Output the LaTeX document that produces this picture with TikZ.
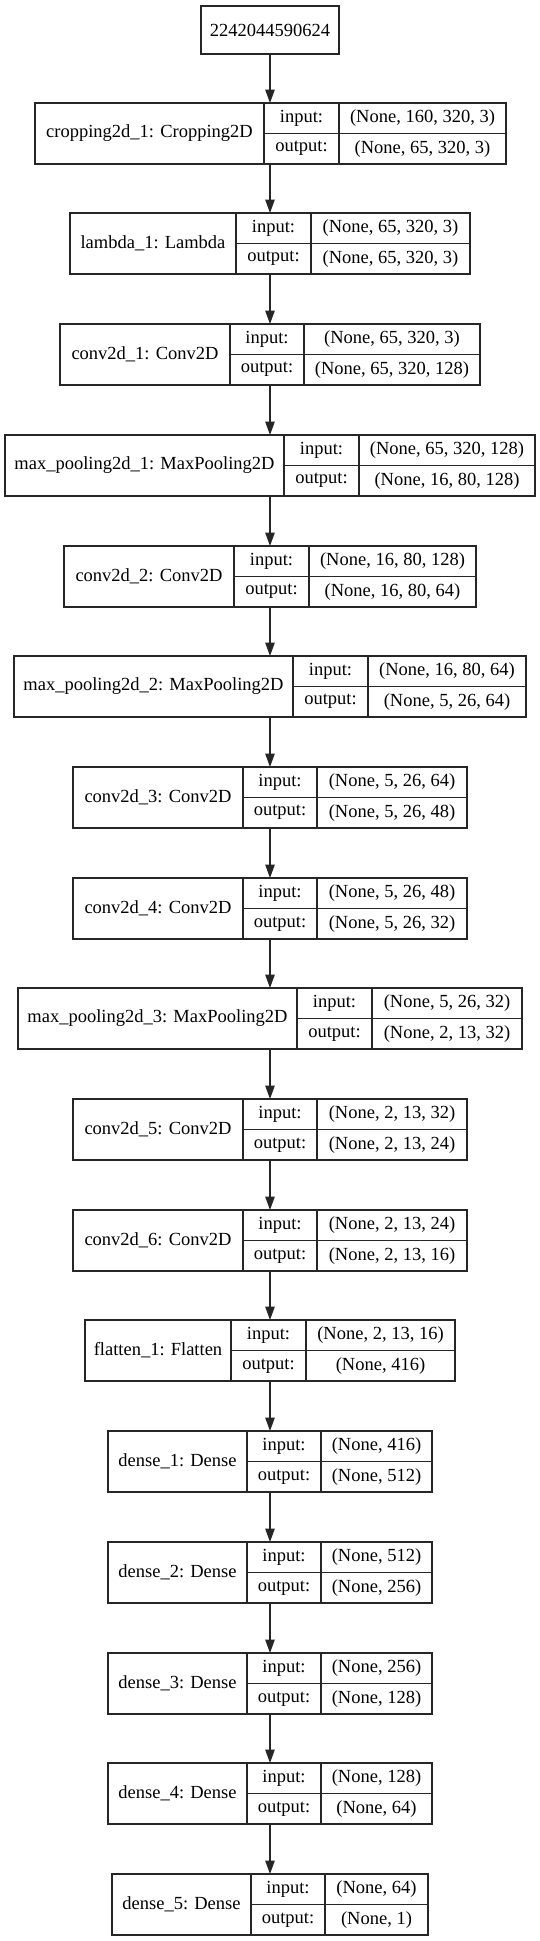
\documentclass[tikz,border=0pt]{standalone}
\usepackage{fontspec}
\setmainfont{Liberation Serif}
\usetikzlibrary{arrows.meta}
\tikzset{
  hull/.style={inner sep=0pt, outer sep=0pt, rectangle},
  cell/.style={draw=black!85, line width=1.2pt, inner sep=0pt, outer sep=0pt, rectangle, font=\fontsize{18.5}{22}\selectfont, text=black},
  flow/.style={draw=black!85, line width=1.2pt, -{Triangle[length=13.5pt,width=9.5pt]}},
}
\newcommand{\boxh}{61}
\newcommand{\halfh}{30.5}
% #1 id, #2 top, #3 left, #4 div1, #5 div2, #6 right, #7 name, #8 input shape, #9 output shape
\newcommand{\layerbox}[9]{%
  \pgfmathsetmacro{\wA}{#4-#3}%
  \pgfmathsetmacro{\wB}{#5-#4}%
  \pgfmathsetmacro{\wC}{#6-#5}%
  \pgfmathsetmacro{\wT}{#6-#3}%
  \pgfmathsetmacro{\yM}{#2+\halfh}%
  \node[hull, minimum width=\wT pt, minimum height=\boxh pt, anchor=north west] (#1) at (#3pt,-#2pt) {};
  \node[cell, minimum width=\wA pt, minimum height=\boxh pt, anchor=north west] (#1-name) at (#3pt,-#2pt) {#7};
  \node[cell, minimum width=\wB pt, minimum height=\halfh pt, anchor=north west] (#1-il) at (#4pt,-#2pt) {input:};
  \node[cell, minimum width=\wB pt, minimum height=\halfh pt, anchor=north west] (#1-ol) at (#4pt,-\yM pt) {output:};
  \node[cell, minimum width=\wC pt, minimum height=\halfh pt, anchor=north west] (#1-iv) at (#5pt,-#2pt) {#8};
  \node[cell, minimum width=\wC pt, minimum height=\halfh pt, anchor=north west] (#1-ov) at (#5pt,-\yM pt) {#9};
}
\begin{document}
\begin{tikzpicture}
\useasboundingbox (0,0) rectangle (540pt,-1941pt);
\fill[white] (0,0) rectangle (540pt,-1941pt);
\node[cell, minimum width=138pt, minimum height=48pt, anchor=north west] (inp) at (201pt,-6pt) {2242044590624};
\layerbox{crop}{103}{35}{264}{339}{506}{cropping2d\_1: Cropping2D}{(None, 160, 320, 3)}{(None, 65, 320, 3)}
\layerbox{lam}{213}{70}{236}{311}{470}{lambda\_1: Lambda}{(None, 65, 320, 3)}{(None, 65, 320, 3)}
\layerbox{cva}{324}{60}{230}{304}{480}{conv2d\_1: Conv2D}{(None, 65, 320, 3)}{(None, 65, 320, 128)}
\layerbox{mpa}{435}{5}{284}{359}{535}{max\_pooling2d\_1: MaxPooling2D}{(None, 65, 320, 128)}{(None, 16, 80, 128)}
\layerbox{cvb}{546}{64}{234}{309}{476}{conv2d\_2: Conv2D}{(None, 16, 80, 128)}{(None, 16, 80, 64)}
\layerbox{mpb}{656}{14}{293}{368}{526}{max\_pooling2d\_2: MaxPooling2D}{(None, 16, 80, 64)}{(None, 5, 26, 64)}
\layerbox{cvc}{767}{73}{243}{317}{467}{conv2d\_3: Conv2D}{(None, 5, 26, 64)}{(None, 5, 26, 48)}
\layerbox{cvd}{878}{73}{243}{317}{467}{conv2d\_4: Conv2D}{(None, 5, 26, 48)}{(None, 5, 26, 32)}
\layerbox{mpc}{988}{18}{297}{372}{522}{max\_pooling2d\_3: MaxPooling2D}{(None, 5, 26, 32)}{(None, 2, 13, 32)}
\layerbox{cve}{1099}{73}{243}{317}{467}{conv2d\_5: Conv2D}{(None, 2, 13, 32)}{(None, 2, 13, 24)}
\layerbox{cvf}{1210}{73}{243}{317}{467}{conv2d\_6: Conv2D}{(None, 2, 13, 24)}{(None, 2, 13, 16)}
\layerbox{flt}{1320}{85}{231}{306}{455}{flatten\_1: Flatten}{(None, 2, 13, 16)}{(None, 416)}
\layerbox{dna}{1431}{108}{247}{321}{432}{dense\_1: Dense}{(None, 416)}{(None, 512)}
\layerbox{dnb}{1542}{108}{247}{321}{432}{dense\_2: Dense}{(None, 512)}{(None, 256)}
\layerbox{dnc}{1653}{108}{247}{321}{432}{dense\_3: Dense}{(None, 256)}{(None, 128)}
\layerbox{dnd}{1763}{108}{247}{321}{432}{dense\_4: Dense}{(None, 128)}{(None, 64)}
\layerbox{dne}{1874}{112}{251}{325}{428}{dense\_5: Dense}{(None, 64)}{(None, 1)}
\draw[flow] (inp.south) -- (inp.south |- crop.north);
\foreach \a/\b in {crop/lam, lam/cva, cva/mpa, mpa/cvb, cvb/mpb, mpb/cvc, cvc/cvd, cvd/mpc, mpc/cve, cve/cvf, cvf/flt, flt/dna, dna/dnb, dnb/dnc, dnc/dnd, dnd/dne}
  \draw[flow] (inp.south |- \a.south) -- (inp.south |- \b.north);
\end{tikzpicture}
\end{document}
